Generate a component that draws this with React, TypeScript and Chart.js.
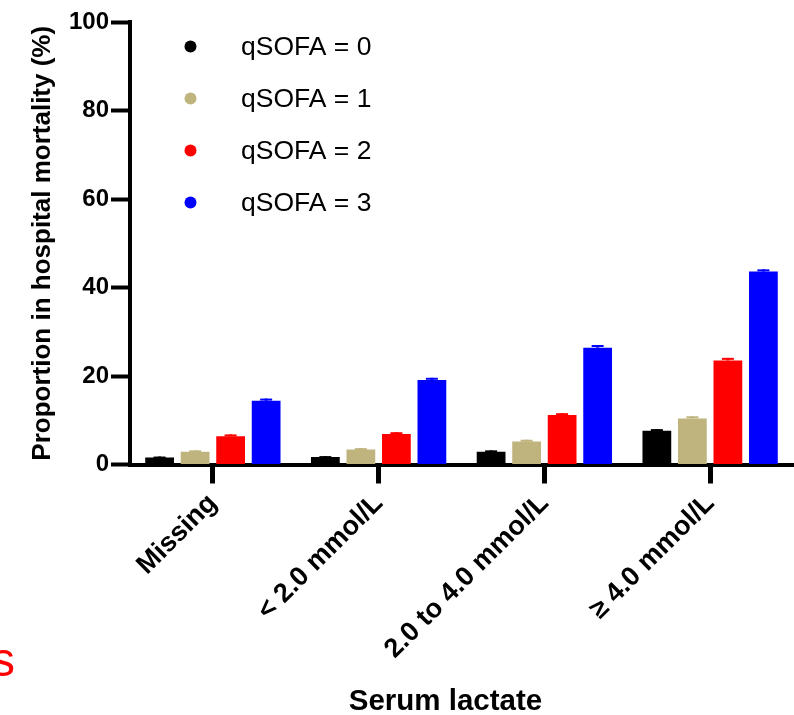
import React, { useEffect, useRef } from 'react';
import { Chart, registerables } from 'chart.js';

Chart.register(...registerables);

// ---- data ----
const categories = ['Missing', '< 2.0 mmol/L', '2.0 to 4.0 mmol/L', '≥ 4.0 mmol/L'];
const seriesLabels = ['qSOFA = 0', 'qSOFA = 1', 'qSOFA = 2', 'qSOFA = 3'];
const seriesColors = ['#000000', '#BFB47E', '#FF0000', '#0000FF'];
const qsofa0 = [1.6, 1.7, 2.9, 7.6];
const qsofa1 = [2.9, 3.4, 5.2, 10.4];
const qsofa2 = [6.4, 6.9, 11.2, 23.5];
const qsofa3 = [14.4, 19.1, 26.4, 43.6];
const err0 = [0.2, 0.2, 0.3, 0.4];
const err1 = [0.3, 0.3, 0.4, 0.5];
const err2 = [0.4, 0.4, 0.4, 0.6];
const err3 = [0.5, 0.5, 0.6, 0.5];
const yTicks = [0, 20, 40, 60, 80, 100];
const xTitle = 'Serum lactate';
const yTitle = 'Proportion in hospital mortality (%)';
const marginNote = 's';

const seriesValues = [qsofa0, qsofa1, qsofa2, qsofa3];
const seriesErrors = [err0, err1, err2, err3];

const FONT = '"Liberation Sans", Arial, Helvetica, sans-serif';

const errorBarPlugin = {
  id: 'errorBars',
  afterDatasetsDraw(chart: any) {
    const ctx = chart.ctx;
    const yScale = chart.scales.y;
    chart.data.datasets.forEach((ds: any, i: number) => {
      const meta = chart.getDatasetMeta(i);
      const errs = seriesErrors[i];
      meta.data.forEach((el: any, j: number) => {
        const v = ds.data[j];
        const top = yScale.getPixelForValue(v + errs[j]);
        ctx.save();
        ctx.strokeStyle = ds.backgroundColor;
        ctx.lineWidth = 3;
        ctx.beginPath();
        ctx.moveTo(el.x, el.y);
        ctx.lineTo(el.x, top);
        ctx.stroke();
        ctx.lineWidth = 2;
        ctx.beginPath();
        ctx.moveTo(el.x - 6, top + 1);
        ctx.lineTo(el.x + 6, top + 1);
        ctx.stroke();
        ctx.restore();
      });
    });
  },
};

const legendPlugin = {
  id: 'insideLegend',
  afterDraw(chart: any) {
    const ctx = chart.ctx;
    ctx.save();
    chart.data.datasets.forEach((ds: any, i: number) => {
      const y = 46.5 + i * 52;
      ctx.fillStyle = ds.backgroundColor;
      ctx.beginPath();
      ctx.arc(190.5, y, 6, 0, Math.PI * 2);
      ctx.fill();
      ctx.fillStyle = '#000';
      ctx.font = `26.5px ${FONT}`;
      ctx.textAlign = 'left';
      ctx.textBaseline = 'middle';
      ctx.fillText(ds.label, 241, y + 1);
    });
    ctx.restore();
  },
};

const titleAndNotePlugin = {
  id: 'xTitleAndNote',
  afterDraw(chart: any) {
    const ctx = chart.ctx;
    ctx.save();
    ctx.fillStyle = '#000';
    ctx.font = `bold 29.5px ${FONT}`;
    ctx.textAlign = 'center';
    ctx.textBaseline = 'alphabetic';
    ctx.fillText(xTitle, 445.5, 710);
    ctx.fillStyle = '#FF0000';
    ctx.font = `48px ${FONT}`;
    ctx.textAlign = 'left';
    ctx.fillText(marginNote, -9, 676);
    ctx.restore();
  },
};

export default function App() {
  const canvasRef = useRef<HTMLCanvasElement | null>(null);

  useEffect(() => {
    const canvas = canvasRef.current;
    if (!canvas) return;
    const chart = new Chart(canvas, {
      type: 'bar',
      data: {
        labels: categories,
        datasets: seriesLabels.map((label, i) => ({
          label,
          data: seriesValues[i],
          backgroundColor: seriesColors[i],
          borderWidth: 0,
          categoryPercentage: 0.857,
          barPercentage: 0.81,
        })),
      },
      options: {
        animation: false,
        responsive: false,
        devicePixelRatio: 1,
        layout: { padding: { top: 22, right: 1, left: 0, bottom: 0 } },
        plugins: {
          legend: { display: false },
          tooltip: { enabled: false },
        },
        scales: {
          x: {
            grid: {
              offset: false,
              drawOnChartArea: false,
              drawTicks: true,
              tickLength: 19,
              tickWidth: 5,
              tickColor: '#000',
            },
            border: { display: true, width: 4, color: '#000' },
            ticks: {
              autoSkip: false,
              maxRotation: 45,
              minRotation: 45,
              padding: 4,
              color: '#000',
              font: { family: FONT, size: 27, weight: 'bold' },
            },
            title: { display: false, text: xTitle },
            afterFit(scale: any) {
              scale.height = 250.5;
            },
          },
          y: {
            min: 0,
            max: 100,
            afterBuildTicks(scale: any) {
              scale.ticks = yTicks.map((v) => ({ value: v }));
            },
            grid: {
              drawOnChartArea: false,
              drawTicks: true,
              tickLength: 19,
              tickWidth: 4,
              tickColor: '#000',
            },
            border: { display: true, width: 4, color: '#000' },
            ticks: {
              padding: 2,
              color: '#000',
              font: { family: FONT, size: 24, weight: 'bold' },
            },
            title: {
              display: true,
              text: yTitle,
              color: '#000',
              font: { family: FONT, size: 26, weight: 'bold' },
              padding: { top: 27, bottom: 0 },
            },
            afterFit(scale: any) {
              scale.width = 130;
            },
          },
        },
      },
      plugins: [errorBarPlugin, legendPlugin, titleAndNotePlugin],
    } as any);
    return () => chart.destroy();
  }, []);

  return (
    <div style={{ position: 'fixed', left: 0, top: 0, width: 794, height: 715, background: '#fff' }}>
      <canvas ref={canvasRef} width={794} height={715} style={{ display: 'block' }} />
    </div>
  );
}
